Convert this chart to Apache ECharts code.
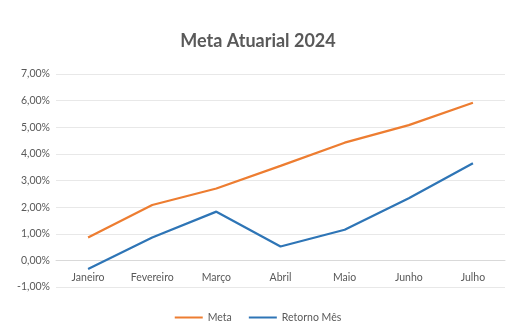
<!DOCTYPE html>
<html><head><meta charset="utf-8">
<script src="https://cdn.jsdelivr.net/npm/echarts@6/dist/echarts.min.js"></script>
<style>html,body{margin:0;padding:0;background:#fff}#c{width:516px;height:333px}</style>
</head><body><div id="c"></div>
<script>
const categories = ['Janeiro','Fevereiro','Março','Abril','Maio','Junho','Julho'];
const meta = [0.86, 2.08, 2.70, 3.55, 4.42, 5.08, 5.92];
const retorno = [-0.32, 0.86, 1.83, 0.52, 1.15, 2.33, 3.65];
const chart = echarts.init(document.getElementById('c'), null, {renderer:'canvas'});
const font = 'Lato, "Open Sans", sans-serif';
chart.setOption({
  animation:false,
  backgroundColor:'#fff',
  title:{text:'Meta Atuarial 2024',left:'center',top:27,
    textStyle:{fontFamily:font,fontSize:18,fontWeight:'bold',color:'#595959'}},
  legend:{top:307,left:'center',itemWidth:28,itemHeight:2,itemGap:17,
    textStyle:{fontFamily:font,fontSize:10.5,color:'#595959'},
    icon:'rect',
    data:['Meta','Retorno Mês']},
  grid:{left:56,right:11,top:74,bottom:46,containLabel:false},
  xAxis:{type:'category',data:categories,boundaryGap:true,offset:-27,
    axisLine:{show:true,onZero:false,lineStyle:{color:'#d9d9d9'}},
    axisTick:{show:false},
    axisLabel:{margin:12,fontFamily:font,fontSize:10.5,color:'#595959'}},
  yAxis:{type:'value',min:-1,max:7,interval:1,
    axisLine:{show:false},axisTick:{show:false},
    splitLine:{lineStyle:{color:'#e8e8e8'}},
    axisLabel:{fontFamily:font,fontSize:10.5,color:'#595959',margin:6,
      formatter:v=>v.toFixed(2).replace('.',',')+'%'}},
  series:[
    {name:'Meta',type:'line',data:meta,showSymbol:false,symbol:'none',
      lineStyle:{width:2.25,color:'#ED7D31'},itemStyle:{color:'#ED7D31'}},
    {name:'Retorno Mês',type:'line',data:retorno,showSymbol:false,symbol:'none',
      lineStyle:{width:2.25,color:'#2E75B6'},itemStyle:{color:'#2E75B6'}}
  ]
});
</script></body></html>
